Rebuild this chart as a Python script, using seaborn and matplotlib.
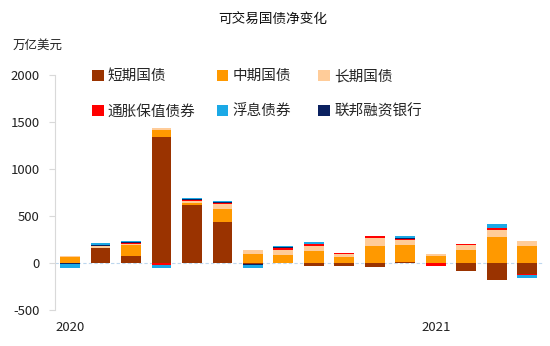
import numpy as np
import pandas as pd
import matplotlib
matplotlib.use("Agg")
import matplotlib.pyplot as plt
from matplotlib.patches import Patch
import seaborn as sns

months = ["2020-01", "2020-02", "2020-03", "2020-04", "2020-05", "2020-06", "2020-07", "2020-08",
          "2020-09", "2020-10", "2020-11", "2020-12", "2021-01", "2021-02", "2021-03", "2021-04"]
short_term = [0, 160, 80, 1340, 620, 440, -10, 0, -35, -35, -40, 15, 0, -80, -180, -117]
mid_term = [65, 0, 110, 80, 20, 130, 100, 90, 125, 65, 177, 177, 70, 135, 277, 185]
long_term = [15, 20, 15, 20, 25, 57, 43, 53, 53, 28, 88, 57, 25, 53, 78, 46]
tips = [0, 5, 10, -20, 8, 10, 0, 15, 25, 15, 25, 10, -35, 12, 18, -15]
ffb = [-8, 8, 8, 0, 8, 10, -10, 10, 0, 0, 0, 8, 0, 5, 5, 0]
frn = [-40, 15, 10, -30, 12, 12, -35, 12, 25, 0, 0, 25, 0, 0, 35, -25]

series_names = ["短期国债", "中期国债", "长期国债", "通胀保值债券", "浮息债券", "联邦融资银行"]
colors = {"短期国债": "#9A3300", "中期国债": "#FF9900", "长期国债": "#FFCC99",
          "通胀保值债券": "#FF0000", "浮息债券": "#1BA9E6", "联邦融资银行": "#0B2160"}
tick_labels = {0: "2020", 12: "2021"}

# stacking order (bottom to top)
stack = [("短期国债", short_term), ("中期国债", mid_term), ("长期国债", long_term),
         ("通胀保值债券", tips), ("联邦融资银行", ffb), ("浮息债券", frn)]

sns.set_theme(style="white")
plt.rcParams["font.family"] = ["Noto Sans CJK SC", "DejaVu Sans"]
plt.rcParams["axes.unicode_minus"] = False

fig = plt.figure(figsize=(5.5, 3.46), dpi=100)
ax = fig.add_axes([0.0995, 0.104, 0.887, 0.679])

vals = np.array([s[1] for s in stack], dtype=float)
pos = np.cumsum(np.clip(vals, 0, None), axis=0)
neg = np.cumsum(np.clip(vals, None, 0), axis=0)

# overlay technique: draw cumulative totals from top layer down
for k in range(len(stack) - 1, -1, -1):
    name = stack[k][0]
    df = pd.DataFrame({"month": months, "pos": pos[k], "neg": neg[k]})
    sns.barplot(data=df, x="month", y="pos", color=colors[name], saturation=1,
                width=0.65, ax=ax, linewidth=0)
    sns.barplot(data=df, x="month", y="neg", color=colors[name], saturation=1,
                width=0.65, ax=ax, linewidth=0)

ax.axhline(0, color="#BDD7EE", lw=0.8, ls=(0, (3, 2)), zorder=0.5)
ax.set_xlim(-0.5, len(months) - 0.5)
ax.set_ylim(-500, 2000)
ax.set_yticks([-500, 0, 500, 1000, 1500, 2000])
ax.set_yticklabels(["-500", "0", "500", "1000", "1500", "2000"], fontsize=9.5, color="#222222")
ax.set_xticks(list(tick_labels.keys()))
ax.set_xticklabels(list(tick_labels.values()), fontsize=9.5, color="#222222")
ax.tick_params(axis="x", length=0, pad=8)
ax.tick_params(axis="y", length=4, width=0.8, color="#D9D9D9", left=True, pad=7)
ax.set_xlabel("")
ax.set_ylabel("")
for side in ["top", "right", "bottom"]:
    ax.spines[side].set_visible(False)
ax.spines["left"].set_color("#D9D9D9")
ax.spines["left"].set_linewidth(0.8)

# legend: three columns laid out row-wise
columns = [["短期国债", "通胀保值债券"], ["中期国债", "浮息债券"], ["长期国债", "联邦融资银行"]]
col_x = [0.167, 0.394, 0.579]
for names, x0 in zip(columns, col_x):
    handles = [Patch(facecolor=colors[n], edgecolor="none") for n in names]
    fig.legend(handles, names, loc="upper left", bbox_to_anchor=(x0, 0.800),
               ncol=1, frameon=False, fontsize=10.5, handlelength=0.8, handleheight=0.8,
               handletextpad=0.3, labelspacing=1.45, borderaxespad=0, borderpad=0)

fig.text(0.496, 0.945, "可交易国债净变化", ha="center", va="center", fontsize=9.8, color="#111111")
fig.text(0.022, 0.868, "万亿美元", ha="left", va="center", fontsize=9, color="#222222")

fig.savefig("out.png", dpi=100)
